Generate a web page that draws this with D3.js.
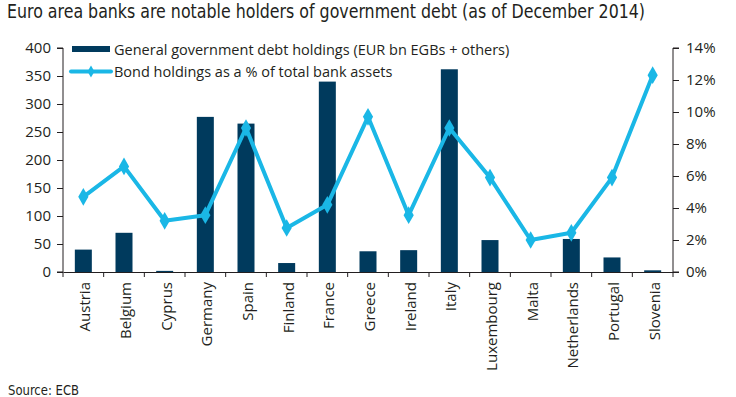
<!DOCTYPE html>
<html><head><meta charset="utf-8">
<script src="https://cdn.jsdelivr.net/npm/d3@7"></script>
<style>
body{margin:0;background:#fff;}
text{fill:#231f20;}
</style></head>
<body><svg id="c" width="736" height="397"></svg>
<script>
const categories = ["Austria","Belgium","Cyprus","Germany","Spain","Finland","France","Greece","Ireland","Italy","Luxembourg","Malta","Netherlands","Portugal","Slovenia"];
const debtHoldings = [40,70,2,277,265,16,340,37,39,362,57,0,59,26,3];
const bondShare = [4.7,6.6,3.2,3.55,9.0,2.75,4.2,9.7,3.55,9.0,5.9,2.0,2.45,5.9,12.3];
const leftTicks = [0,50,100,150,200,250,300,350,400];
const rightTicks = [0,2,4,6,8,10,12,14];
const title = "Euro area banks are notable holders of government debt (as of December 2014)";
const legendBar = "General government debt holdings (EUR bn EGBs + others)";
const legendLine = "Bond holdings as a % of total bank assets";
const source = "Source: ECB";

const svg = d3.select("#c");
const font = "'Open Sans', 'Noto Sans', sans-serif";
const condensed = "'DejaVu Sans', sans-serif";
const L = 63, R = 673, T = 48, B = 272;
const xb = d3.scaleBand().domain(categories).range([L, R]);
const yL = d3.scaleLinear().domain([0, 400]).range([B, T]);
const yR = d3.scaleLinear().domain([0, 14]).range([B, T]);
const navy = "#003a5d", cyan = "#1ab7e6";

svg.append("text").attr("x", 7).attr("y", 18).attr("font-family", condensed)
  .attr("font-stretch", "condensed").attr("font-size", 19)
  .attr("textLength", 638).attr("lengthAdjust", "spacingAndGlyphs").text(title);

// bars
svg.selectAll("rect.bar").data(categories).enter().append("rect")
  .attr("x", d => xb(d) + xb.bandwidth()/2 - 8.5).attr("width", 17)
  .attr("y", (d,i) => yL(debtHoldings[i])).attr("height", (d,i) => B - yL(debtHoldings[i]))
  .attr("fill", navy);

// axes
const axL = svg.append("g").attr("transform", `translate(${L},0)`)
  .call(d3.axisLeft(yL).tickValues(leftTicks).tickSize(6).tickPadding(6));
const axR = svg.append("g").attr("transform", `translate(${R},0)`)
  .call(d3.axisRight(yR).tickValues(rightTicks).tickSize(6).tickPadding(7).tickFormat(d => d + "%"));
const axB = svg.append("g").attr("transform", `translate(0,${B})`)
  .call(d3.axisBottom(xb).tickSize(0).tickFormat(""));
svg.append("g").selectAll("line").data(d3.range(categories.length + 1)).enter().append("line")
  .attr("x1", i => L + i * xb.step()).attr("x2", i => L + i * xb.step())
  .attr("y1", B).attr("y2", B + 5).attr("stroke", "#231f20");
[axL, axR, axB].forEach(g => {
  g.selectAll("path,line").attr("stroke", "#231f20");
  g.selectAll("text").attr("font-family", font).attr("font-size", 15).attr("fill", "#231f20");
});
axL.select("path").attr("d", `M-6,${T}H0V${B}H-6`);
axR.select("path").attr("d", `M6,${T}H0V${B}H6`);

// category labels
svg.append("g").selectAll("text").data(categories).enter().append("text")
  .attr("transform", d => `translate(${xb(d) + xb.bandwidth()/2 + 7},${B + 10}) rotate(-90)`)
  .attr("text-anchor", "end").attr("font-family", font).attr("font-size", 15).text(d => d);

// line
const line = d3.line().x((d,i) => xb(categories[i]) + xb.bandwidth()/2).y(d => yR(d));
svg.append("path").datum(bondShare).attr("d", line).attr("fill", "none")
  .attr("stroke", cyan).attr("stroke-width", 4).attr("stroke-linejoin", "round");
const sym = d3.symbol().type(d3.symbolDiamond).size(90);
svg.selectAll("path.mk").data(bondShare).enter().append("path")
  .attr("transform", (d,i) => `translate(${xb(categories[i]) + xb.bandwidth()/2},${yR(d)})`)
  .attr("d", sym).attr("fill", cyan);

// legend
svg.append("rect").attr("x", 72).attr("y", 46).attr("width", 38).attr("height", 6).attr("fill", navy);
svg.append("text").attr("x", 114).attr("y", 55).attr("font-family", font).attr("font-size", 14.5).text(legendBar);
svg.append("line").attr("x1", 71).attr("x2", 111).attr("y1", 71.5).attr("y2", 71.5).attr("stroke", cyan).attr("stroke-width", 4).attr("stroke-linecap", "round");
svg.append("path").attr("transform", "translate(91,71.5)").attr("d", d3.symbol().type(d3.symbolDiamond).size(40)).attr("fill", cyan);
svg.append("text").attr("x", 114).attr("y", 77).attr("font-family", font).attr("font-size", 14.5).text(legendLine);

svg.append("text").attr("x", 8).attr("y", 395).attr("font-family", condensed)
  .attr("font-stretch", "condensed").attr("font-size", 14)
  .attr("textLength", 71).attr("lengthAdjust", "spacingAndGlyphs").text(source);
</script></body></html>
